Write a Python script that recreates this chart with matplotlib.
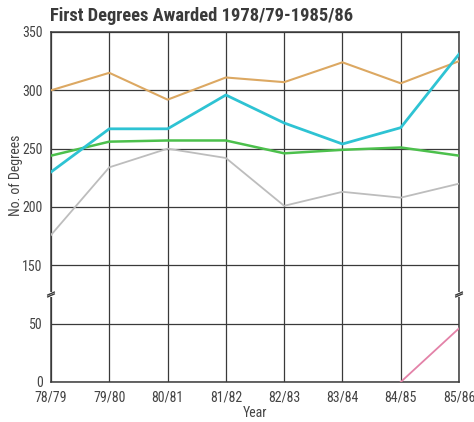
import numpy as np
import matplotlib
matplotlib.use("Agg")
import matplotlib.pyplot as plt
from matplotlib import font_manager

years = ["78/79", "79/80", "80/81", "81/82", "82/83", "83/84", "84/85", "85/86"]
orange_vals = [300, 315, 292, 311, 307, 324, 306, 325]
cyan_vals = [230, 267, 267, 296, 272, 254, 268, 331]
green_vals = [244, 256, 257, 257, 246, 249, 251, 244]
gray_vals = [176, 234, 250, 242, 201, 213, 208, 220]
pink_years = ["84/85", "85/86"]
pink_vals = [0, 46]
ytick_vals = [0, 50, 150, 200, 250, 300, 350]


# broken axis: squeeze 50..150 into half the space
def fwd(v):
    v = np.asarray(v, dtype=float)
    return np.where(v <= 50, v, np.where(v >= 150, v - 50, 50 + (v - 50) * 0.5))


def inv(d):
    d = np.asarray(d, dtype=float)
    return np.where(d <= 50, d, np.where(d >= 100, d + 50, 50 + (d - 50) * 2))


# narrow fonts if around; prefer one with a real bold face for the title
fonts = font_manager.fontManager.ttflist
narrow = sorted({f.name for f in fonts if 'Narrow' in f.name or 'Condensed' in f.name})
bold_narrow = sorted({f.name for f in fonts if f.name in narrow
                      and (f.weight == 'bold' or (isinstance(f.weight, int) and f.weight >= 600))})
pref = ['Liberation Sans Narrow', 'Roboto Condensed', 'Open Sans Condensed']
bold_narrow = [n for n in pref if n in bold_narrow] + [n for n in bold_narrow if n not in pref]
narrow = [n for n in pref if n in narrow] + [n for n in narrow if n not in pref]

if narrow:
    plt.rcParams['font.family'] = [narrow[0], 'DejaVu Sans']
    tsize, lsize = 10, 10
else:
    plt.rcParams['font.family'] = ['Liberation Sans', 'DejaVu Sans']
    tsize, lsize = 8.5, 9
if bold_narrow:
    title_font, title_size = [bold_narrow[0], 'DejaVu Sans'], 13.3
else:
    title_font, title_size = ['Liberation Sans', 'DejaVu Sans'], 11.5

fig = plt.figure(figsize=(4.74, 4.22), dpi=100)
ax = fig.add_axes([0.1076, 0.0948, 0.8608, 0.8294])
ax.set_yscale('function', functions=(fwd, inv))

x = np.arange(len(years))
ax.plot(x, orange_vals, color='#dca862', lw=1.5, zorder=3)
ax.plot(x, gray_vals, color='#bdbdbd', lw=1.3, zorder=3)
ax.plot(x, green_vals, color='#4cc04c', lw=1.8, zorder=3)
ax.plot(x, cyan_vals, color='#2ec3d3', lw=2.0, zorder=4)
ax.plot([years.index(y) for y in pink_years], pink_vals, color='#e382a8', lw=1.3, zorder=3)

ax.set_xlim(0, len(years) - 1)
ax.set_ylim(0, 350)
ax.set_xticks(x)
ax.set_xticklabels(years)
ax.set_yticks(ytick_vals)
ax.tick_params(length=0, labelsize=tsize, colors='#444444', pad=6)
ax.grid(True, color='#3a3a3a', lw=0.9)
ax.set_axisbelow(True)
for s in ax.spines.values():
    s.set_color('#3a3a3a')
    s.set_linewidth(1.1)

ax.set_xlabel('Year', fontsize=lsize, color='#444444', labelpad=1)
ax.set_ylabel('No. of Degrees', fontsize=lsize, color='#444444')
ax.yaxis.set_label_coords(-0.068, 0.59)
fig.text(0.106, 0.962, 'First Degrees Awarded 1978/79-1985/86', fontsize=title_size,
         fontweight='bold', family=title_font, color='#3a3a3a', va='center')

# break marks on both sides of the axis
for xa in (0, 1):
    trans = ax.get_yaxis_transform()
    ax.plot([xa, xa], [96, 104], transform=trans, color='white', lw=4,
            zorder=5, clip_on=False, solid_capstyle='butt')
    for off in (-1.6, 1.6):
        ax.plot([xa - 0.008, xa + 0.008], [100 + off - 2.5, 100 + off + 2.5],
                transform=trans, color='#3a3a3a', lw=1, zorder=6, clip_on=False)

fig.savefig('out.png', dpi=100)
